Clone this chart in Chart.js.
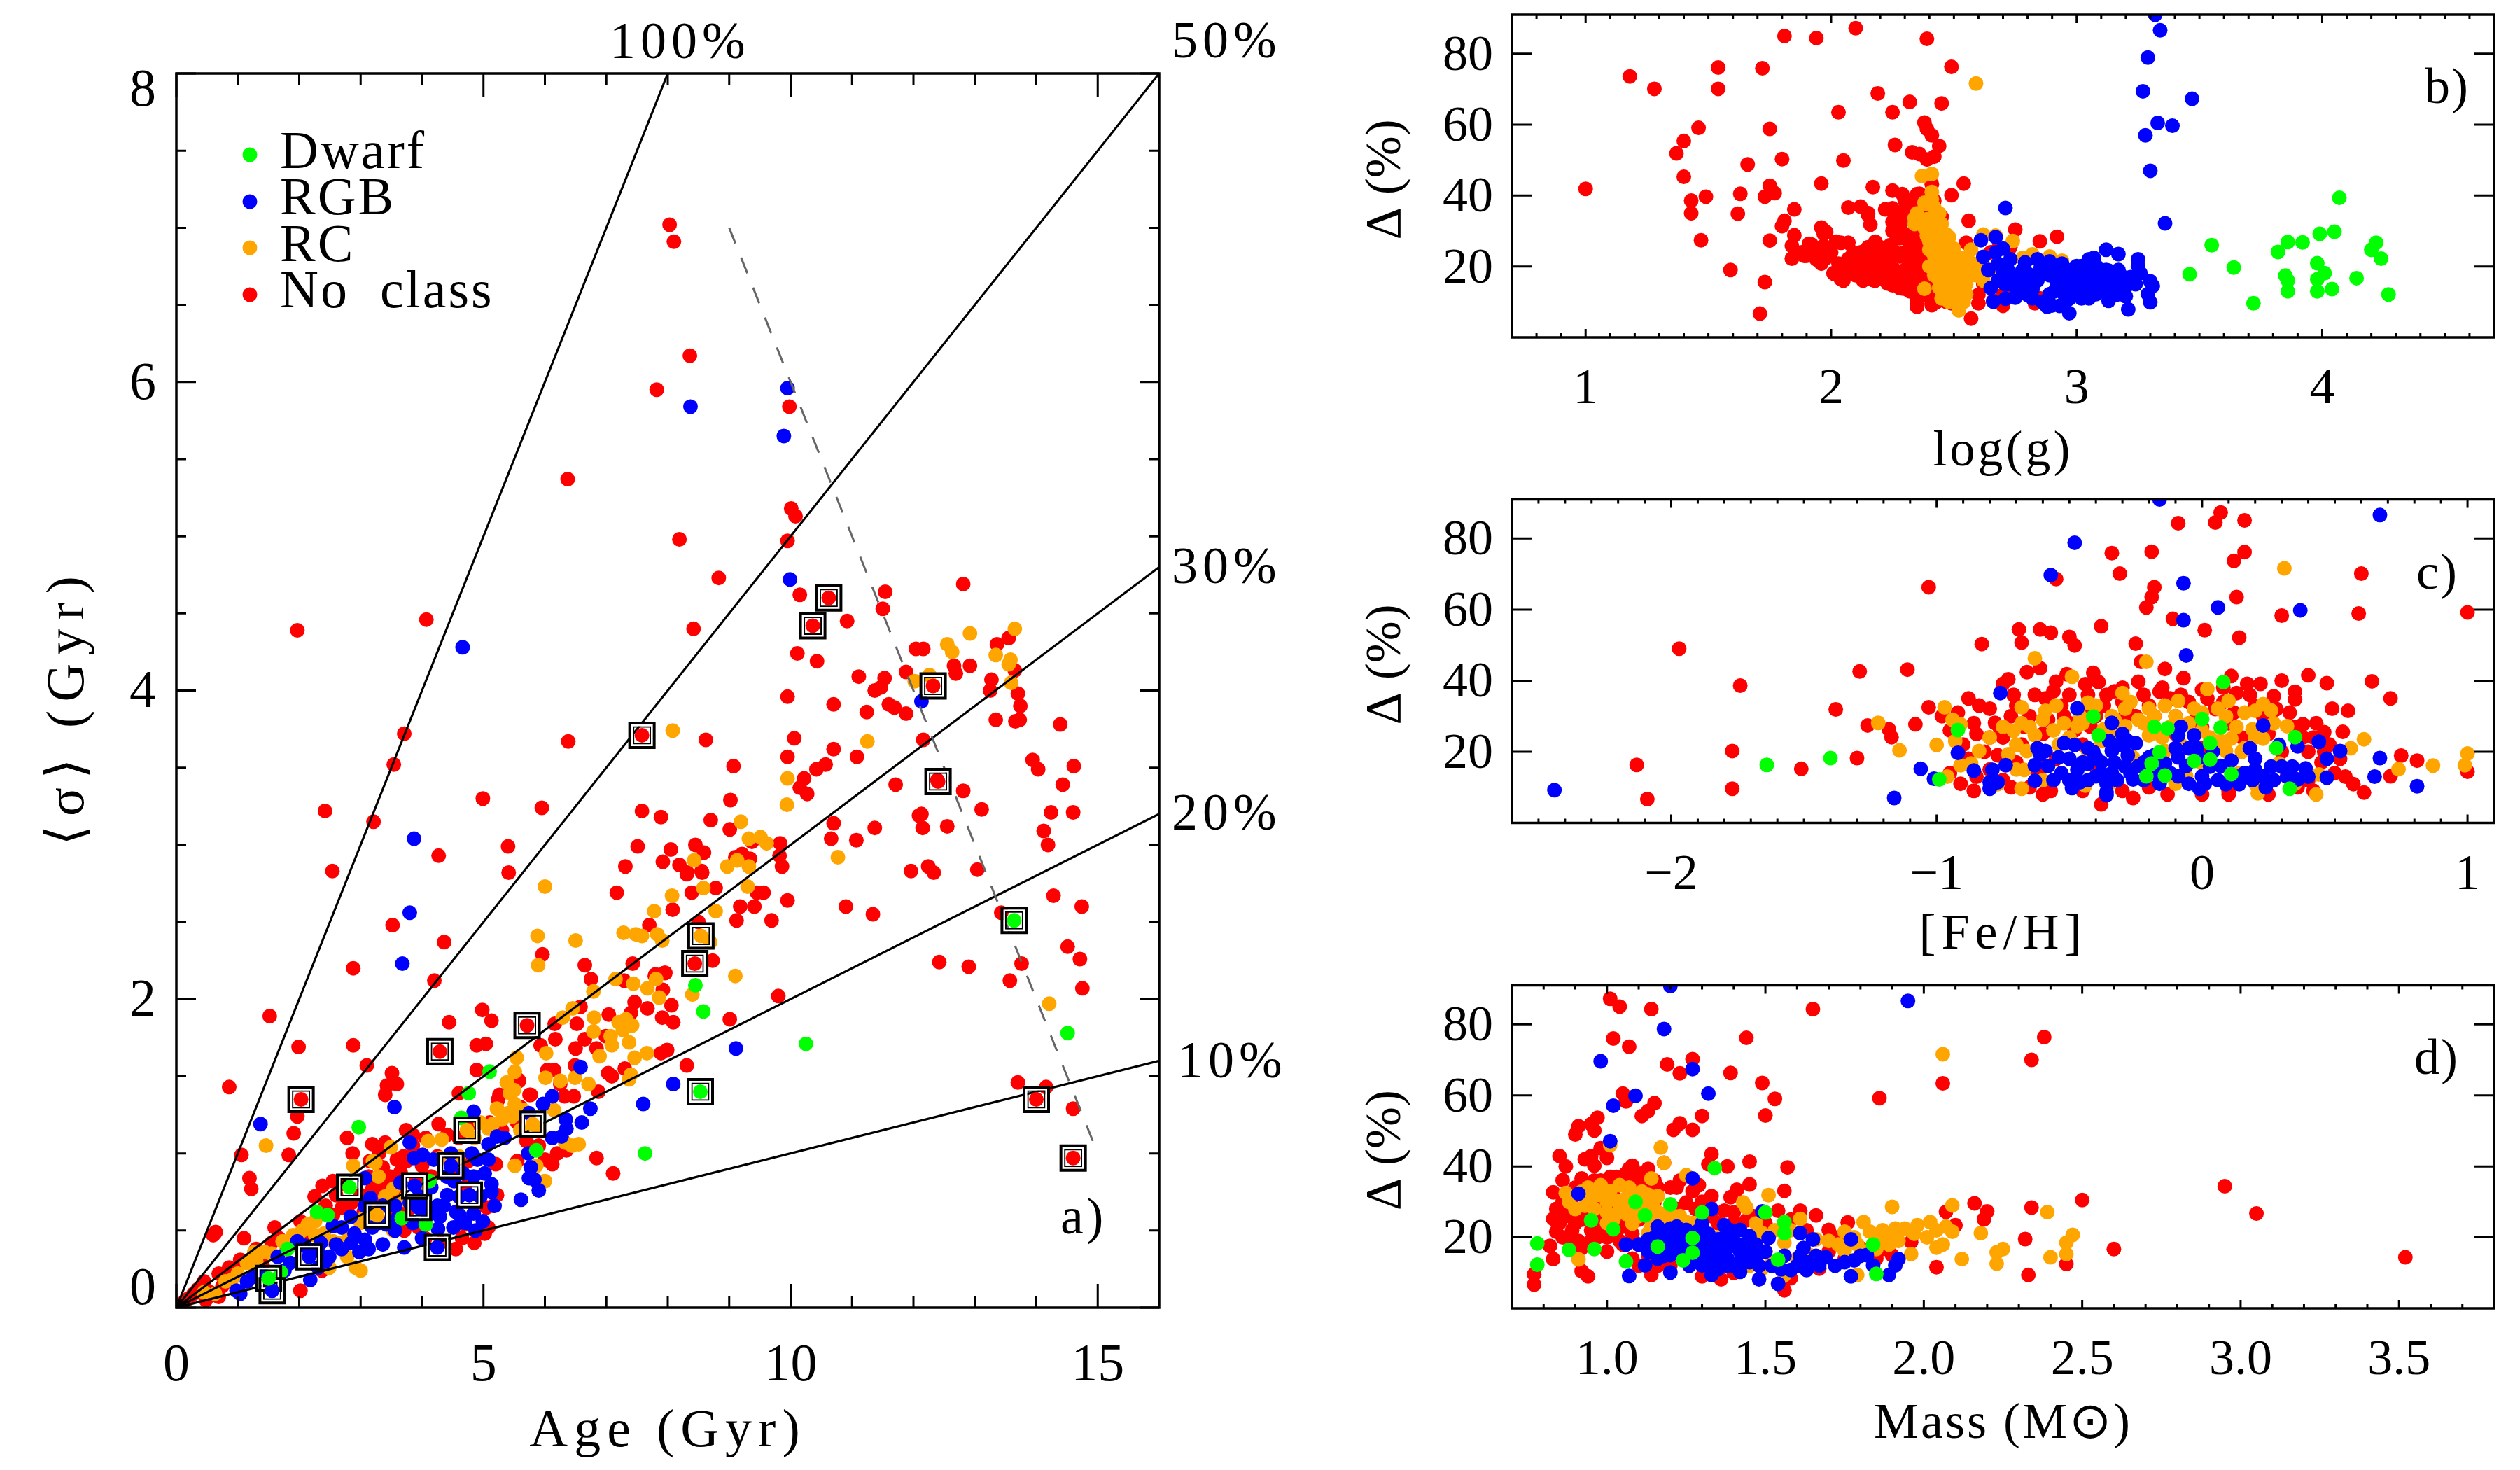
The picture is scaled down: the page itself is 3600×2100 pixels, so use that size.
<!DOCTYPE html>
<html>
<head>
<meta charset="utf-8">
<style>
html,body{margin:0;padding:0;background:#fff;width:3600px;height:2100px;overflow:hidden}
canvas{position:absolute;display:block}
</style>
<script src="https://cdn.jsdelivr.net/npm/chart.js@4/dist/chart.umd.min.js"></script>
</head>
<body>
<canvas id="pa" width="1900" height="2100" style="left:0;top:0"></canvas>
<canvas id="pb" width="1700" height="700" style="left:1900px;top:0"></canvas>
<canvas id="pc" width="1700" height="695" style="left:1900px;top:700px"></canvas>
<canvas id="pd" width="1700" height="705" style="left:1900px;top:1395px"></canvas>
<script>
// ---------- Panel a) Age vs <sigma> ----------
const aNoClass=[[8.03,7.02],[8.10,6.91],[8.36,6.17],[7.82,5.95],[9.98,5.84],[6.37,5.37],[10.01,5.18],[10.08,5.13],[9.95,4.97],[8.19,4.98],[8.83,4.73],[10.15,4.62],[4.07,4.46],[1.97,4.39],[8.42,4.40],[10.11,4.24],[10.43,4.19],[9.95,3.96],[10.70,3.91],[10.06,3.69],[3.71,3.72],[6.38,3.67],[8.62,3.68],[10.70,3.62],[9.95,3.57],[3.54,3.52],[9.07,3.51],[10.57,3.52],[10.42,3.49],[10.22,3.43],[10.15,3.37],[10.27,3.33],[4.99,3.30],[2.42,3.22],[5.95,3.24],[7.58,3.22],[7.89,3.18],[9.02,3.29],[8.70,3.16],[3.21,3.15],[9.01,3.10],[10.70,3.14],[10.66,3.04],[9.37,3.02],[5.40,2.99],[7.51,2.99],[4.27,2.93],[8.05,2.97],[8.45,3.0],[8.59,2.95],[9.83,3.01],[9.82,2.93],[7.92,2.89],[7.31,2.86],[8.19,2.87],[2.54,2.83],[5.41,2.82],[9.1,2.92],[9.21,2.94],[9.34,2.91],[9.86,2.86],[8.32,2.82],[8.55,2.83],
[10.92,4.45],[11.54,4.64],[11.50,4.53],[12.81,4.69],[12.04,4.27],[12.16,4.27],[13.36,4.30],[13.55,4.34],[12.66,4.16],[12.92,4.16],[12.69,4.11],[13.65,4.13],[11.88,4.12],[11.53,4.08],[11.11,4.09],[11.47,4.02],[11.37,4.0],[13.27,4.07],[13.25,4.0],[11.6,3.91],[11.69,3.89],[11.88,3.85],[11.24,3.86],[13.70,3.98],[13.74,3.90],[13.34,3.81],[13.66,3.80],[13.73,3.81],[14.39,3.78],[12.16,3.68],[11.08,3.57],[13.94,3.55],[14.03,3.49],[14.61,3.51],[11.71,3.39],[12.81,3.35],[14.43,3.39],[13.11,3.23],[14.24,3.21],[14.60,3.21],[12.09,3.19],[12.13,3.20],[12.15,3.11],[12.55,3.12],[11.37,3.11],[11.07,3.03],[14.12,3.09],[14.19,3.0],[11.96,2.83],[12.24,2.86],[12.33,2.82],[13.04,2.84],[9.95,2.64],[10.90,2.60],[11.34,2.55],[9.69,2.51],[9.45,2.69],[9.56,2.69],[9.18,2.6],[9.41,2.6],[9.12,2.51],[8.78,2.72],[8.39,2.69],[8.08,2.58],[7.70,2.48],[8.73,2.25],[7.95,2.17],[7.80,2.16],[8.06,1.96],[7.67,1.94],[7.91,1.88],[8.09,1.85],[9.01,1.87],[9.80,2.02],[13.43,2.56],[13.76,2.23],[12.42,2.24],[12.90,2.21],[13.57,2.12],[14.28,2.67],[14.74,2.60],[14.51,2.34],[14.71,2.26],[14.75,2.07],[8.31,2.81],[8.56,2.82],[8.5,2.5],[13.7,1.46],[14.16,1.43],[14.6,1.29],[12.39,3.42],
[5.96,2.29],[6.65,2.22],[7.43,2.23],[6.75,2.13],[7.29,2.12],[7.79,2.15],[7.96,2.17],[7.92,2.06],[7.46,1.98],[6.58,1.95],[7.4,1.91],[7.04,1.90],[4.98,1.93],[5.13,1.86],[6.16,1.84],[6.52,1.84],[6.17,1.74],[6.65,1.74],[6.99,1.76],[4.89,1.70],[5.04,1.71],[5.93,1.70],[6.5,1.68],[6.84,1.68],[7.89,1.65],[7.99,1.67],[4.89,1.54],[6.04,1.54],[6.15,1.54],[6.49,1.57],[7.3,1.55],[7.03,1.52],[7.09,1.50],[8.31,1.57],[5.56,1.48],[6.87,1.40],[4.6,1.39],[5.26,1.38],[5.75,1.38],[6.32,1.37],[6.47,1.37],[7.17,2.69],
[3.52,2.48],[4.36,2.37],[2.88,2.20],[4.2,2.12],[1.52,1.89],[1.99,1.69],[2.88,1.70],[3.10,1.57],[0.86,1.43],[3.51,1.52],[3.43,1.44],[3.59,1.45],[3.40,1.38],[4.44,1.85],[1.97,1.24],[1.91,1.13],[5.24,1.35],[5.58,1.47],[1.06,0.99],[1.83,0.99],[2.78,1.10],[3.74,1.15],[4.27,1.19],[3.19,1.06],[3.40,1.07],[2.87,1.0],[1.19,0.84],[1.22,0.77],[0.64,0.49],[2.38,0.79],[5.2,0.93],[6.84,0.97],[7.11,0.87],[6.12,0.93],[6.0,0.96],[5.77,1.38],
[3.59,0.96],[3.36,0.91],[3.7,0.98],[4.06,1.1],[4.41,1.12],[4.6,1.1],[3.42,0.82],[3.19,0.77],[2.6,0.73],[2.43,0.66],[2.14,0.54],[2.02,0.56],[1.67,0.45],[1.91,0.45],[0.86,0.26],[0.69,0.22],[0.45,0.17],[0.28,0.09],[1.04,0.31],[0.48,0.05],[0.69,0.07],[2.02,0.11],[2.37,0.24],[4.55,0.38],[5.02,0.48],[5.08,0.52],[5.22,0.73],[5.16,0.66],[4.7,0.54],[3.71,0.5],[3.94,0.52],[2.72,0.80],[2.55,0.82],[3.0,0.73],[3.13,0.85],[3.48,0.85],[3.75,0.95],[0.6,0.47],[1.3,0.38],[1.6,0.52],[2.25,0.72],[3.85,1.05],[4.15,0.85],[4.75,0.95],[1.1,0.45],[0.1,0.03]];
const aNoClassBand=[[0.2,0.06],[0.35,0.12],[0.55,0.1],[0.75,0.14],[0.9,0.2],[1.2,0.3],[1.4,0.28],[1.55,0.42],[1.8,0.38],[2.1,0.45],[2.3,0.6],[2.55,0.6],[2.7,0.65],[2.85,0.68],[3.05,0.62],[3.25,0.7],[3.35,0.78],[3.55,0.75],[3.65,0.88],[3.9,0.82],[4.0,0.92],[4.25,0.98],[4.5,0.88],[4.7,0.78],[4.95,0.72],[5.05,0.65],[3.5,0.58],[3.75,0.62],[4.05,0.45],[4.3,0.42],[4.65,0.45],[4.85,0.42],[5.3,1.15],[5.55,1.2],[5.7,1.08],[5.9,1.05],[6.2,1.0],[5.55,0.95],[6.35,1.02],[3.15,0.95],[3.3,1.0],[3.85,1.12],[4.85,1.2],[5.6,1.3],[6.25,1.45],[5.1,1.2]];
const aRC=[[8.08,3.74],[9.19,3.15],[9.32,3.04],[9.51,3.05],[9.61,3.01],[9.95,3.43],[9.94,3.26],[8.43,2.9],[9.13,2.9],[8.97,2.86],[9.32,2.86],[10.77,2.92],[11.25,3.67],[9.3,2.73],[8.58,2.72],[8.07,2.67],[8.78,2.57],[7.78,2.57],[7.48,2.42],[7.58,2.41],[7.83,2.42],[7.91,2.38],[8.69,2.37],[9.10,2.15],[7.81,2.13],[7.67,2.07],[7.44,2.10],[7.86,2.01],[8.40,2.03],[7.42,1.83],[12.55,4.30],[12.63,4.25],[12.92,4.37],[13.65,4.40],[13.34,4.23],[13.58,4.20],[13.55,4.17],[13.59,4.05],[12.26,4.10],[12.02,4.06],[14.21,1.97],
[6.0,2.73],[5.88,2.41],[6.5,2.38],[7.28,2.43],[5.89,2.22],[7.15,2.13],[6.79,2.05],[6.45,1.94],[6.29,1.88],[6.8,1.88],[7.2,1.85],[7.32,1.87],[7.4,1.83],[7.27,1.80],[6.79,1.79],[7.07,1.76],[7.09,1.70],[7.37,1.72],[6.02,1.65],[6.89,1.63],[7.66,1.65],[7.46,1.62],[5.54,1.62],[5.51,1.53],[6.01,1.49],[6.25,1.47],[6.49,1.49],[6.71,1.45],[7.4,1.51],[7.37,1.48],[5.38,1.46],[5.5,1.41],[5.43,1.39],[5.51,1.32],[5.22,1.29],[5.4,1.26],[5.47,1.24],[5.15,1.19],[5.08,1.16],[6.15,1.28],[6.33,1.07],[6.44,1.05],[6.55,1.06],[6.0,0.82],[5.51,0.92],[5.86,0.92],[1.46,1.05],[2.88,0.92],[3.24,0.94],[3.49,1.04],[4.1,1.08],[4.32,1.09],[3.29,0.85],[3.53,0.77],[2.14,0.54],[2.26,0.56],[2.26,0.47],[1.73,0.43],[1.44,0.36],[1.27,0.36],[1.15,0.29],[0.8,0.17],[0.63,0.09],[2.55,0.43],[2.78,0.33],[2.92,0.26],[3.0,0.24],[2.49,0.26],[3.07,0.59],[3.53,0.5],[4.6,0.98],[4.0,0.75]];
const aRCBand=[[1.9,0.47],[2.05,0.5],[2.4,0.48],[2.65,0.42],[2.8,0.45],[1.55,0.35],[1.3,0.3],[1.0,0.22],[0.45,0.1],[0.9,0.18],[3.0,0.55],[3.2,0.62],[3.4,0.72],[3.7,0.7],[4.85,1.1],[5.3,1.22],[5.6,1.15],[4.95,1.2],[5.65,1.28],[5.9,1.15],[4.3,0.97],[3.2,0.95]];
const aRGB=[[9.95,5.96],[8.37,5.84],[9.89,5.65],[9.99,4.72],[4.66,4.28],[3.87,3.04],[12.13,3.93],[9.11,1.68],[8.09,1.45],[6.58,1.56],[6.12,1.37],[7.6,1.32],[3.80,2.56],[3.68,2.23],[3.55,1.30],[1.37,1.19],[6.74,1.29],[5.97,1.32],[4.84,1.27],[5.74,1.26],[6.34,1.22],[6.35,1.16],[6.6,1.20],[6.27,1.11],[6.12,1.10],[5.34,1.1],[5.22,1.11],[5.08,1.06],[5.73,1.0],[5.77,0.91],[5.74,0.84],[5.83,0.83],[5.9,0.76],[5.61,0.70],[3.80,1.07],[3.87,0.97],[4.01,0.99],[4.47,1.0],[4.19,0.96],[4.81,1.0],[4.9,0.96],[5.08,0.96],[5.02,0.87],[5.13,0.80],[5.13,0.75],[5.18,0.66],[4.84,0.85],[4.67,0.87],[4.52,0.82],[4.41,0.73],[4.35,0.66],[4.29,0.59],[4.61,0.60],[4.84,0.61],[4.99,0.56],[4.87,0.50],[4.51,0.52],[4.26,0.51],[3.65,0.81],[4.05,0.66],[4.25,0.66],[3.07,0.84],[3.16,0.71],[3.07,0.66],[3.36,0.66],[3.56,0.66],[3.42,0.54],[3.56,0.50],[3.19,0.52],[2.84,0.59],[2.69,0.52],[2.55,0.53],[2.9,0.48],[3.07,0.44],[2.98,0.36],[3.13,0.38],[2.6,0.41],[2.69,0.38],[2.49,0.33],[3.36,0.41],[3.71,0.39],[1.97,0.43],[1.65,0.33],[1.85,0.29],[2.18,0.18],[1.15,0.17],[0.98,0.11],[1.04,0.09],[1.76,0.24],[2.31,0.26],[2.43,0.30]];
const aRGBBand=[[4.15,0.78],[3.95,0.72],[3.8,0.68],[4.6,0.72],[4.4,0.85],[4.7,0.55],[4.1,0.6],[3.6,0.58],[3.3,0.55],[2.85,0.42],[2.35,0.42],[2.3,0.37],[2.1,0.4],[1.4,0.22],[1.25,0.2],[4.55,0.62],[4.0,0.45],[4.95,0.72],[3.85,0.55]];
const aDwarf=[[8.45,2.09],[8.58,1.92],[10.25,1.71],[14.51,1.78],[5.10,1.53],[4.76,1.39],[4.64,1.23],[5.86,1.02],[7.63,1.0],[2.97,1.17],[4.12,0.82],[3.67,0.58],[4.06,0.54],[2.29,0.62],[2.46,0.60],[1.81,0.38],[1.70,0.23]];
// Stars framed by a double square, by class of the dot inside
const aMarkedNoClass=[[2.03,1.35],[4.29,1.66],[5.71,1.83],[8.44,2.23],[7.58,3.71],[10.36,4.42],[10.62,4.60],[12.32,4.03],[12.40,3.41],[14.0,1.35],[14.6,0.97]];
const aMarkedRC=[[4.73,1.15],[5.80,1.19],[3.27,0.60],[8.54,2.41]];
const aMarkedRGB=[[4.47,0.92],[3.88,0.79],[3.94,0.65],[4.77,0.73],[4.25,0.39],[2.16,0.33],[1.56,0.11]];
const aMarkedDwarf=[[2.82,0.78],[1.50,0.19],[8.53,1.40],[13.64,2.51]];
// Lines of constant relative uncertainty and the dashed 16 Gyr limit
const ray100=[[0,0],[8,8]];
const ray50=[[0,0],[16,8]];
const ray30=[[0,0],[16,4.8]];
const ray20=[[0,0],[16,3.2]];
const ray10=[[0,0],[16,1.6]];
const ageLimit=[[9,7],[15,1]];
const aXTicks=[0,5,10,15];
const aYTicks=[0,2,4,6,8];
const aXMinor=[1,2,3,4,6,7,8,9,11,12,13,14];
const aYMinor=[0.5,1,1.5,2.5,3,3.5,4.5,5,5.5,6.5,7,7.5];

// ---------- Panel b) log(g) vs Delta ----------
const bNoClass=[[1.0,41.9],[1.18,73.6],[1.28,70.1],[1.54,76.1],[1.54,70.1],[1.72,75.9],[1.81,85],[1.94,84.4],[2.10,87.2],[2.39,84.2],[2.49,76.3],[2.19,68.8],[2.32,66.4],[2.45,66],[2.03,63.5],[2.25,63.5],[1.46,59.1],[1.75,58.8],[1.40,55.4],[1.37,51.9],[2.38,60.6],[2.39,58.8],[2.41,57],[2.44,54],[2.26,54.3],[2.33,52.2],[2.42,51],[2.39,50.2],[1.8,50.3],[2.05,49.9],[1.66,48.8],[1.40,45.3],[1.75,42.8],[1.77,40.7],[1.73,39.7],[1.96,43.4],[2.17,42.4],[2.25,41.4],[2.29,40.4],[2.30,38.6],[2.35,40.4],[2.54,43.4],[2.49,40.1],[1.63,40.5],[1.49,39.7],[1.43,38.6],[1.43,35],[1.62,34.9],[1.85,36.1],[2.07,36.6],[2.12,36.9],[2.15,35.1],[2.16,31.8],[2.22,36.1],[2.26,35.2],[2.56,32.9],[1.81,32.9],[1.80,31.4],[2.75,30.4],[1.96,31],[1.97,29.2],[1.85,28.8],[1.84,25.8],[1.47,27.4],[1.75,27.3],[2.92,28.4],[2.85,27.1],[1.59,19],[1.73,15.6],[1.71,6.7],[2.57,5.3],[1.84,22.2],[1.90,23],[1.92,26.2],[1.97,25.8],[1.96,21],[2.07,26.7],[2.01,18],[2.05,16],[2.13,16],[2.18,16],[2.25,14.7],[2.29,13.8],[2.35,9.1],[2.41,9.1],[2.15,34.6],[2.25,36.4],[1.98,29.7],[1.91,26.4],[1.89,23],[1.96,20.8],[2.04,26.7],[2.01,18.1],[2.04,16.4],[2.1,17.5],[2.13,16.2],[2.17,16.2],[2.23,15.2],[2.28,13.9],[2.30,13.7],[2.15,25.4],[2.2,25.4],[2.24,26],[2.28,28],[2.28,22.8],[2.25,32.6],[2.28,31.3],[2.30,33.3],[2.32,35.3],[2.35,10.9],[2.35,8.6],[2.41,9.6],[2.45,12.2],[2.49,9.6],[2.6,9.6],[2.66,10.3],[2.7,8.9],[2.83,9.6],[2.55,26.7],[2.73,25.4],[1.98,22.4],[2.07,22.1],[2.15,21.4],[2.09,24],[2.19,20.1],[2.23,20.1],[2.32,20.1],[2.32,26.7],[2.34,30],[2.32,16.8],[2.35,14.9],[2.03,20.8],[2.11,20.1],[2.17,18.8],[2.22,17.5],[2.28,18.1],[2.25,22.8],[2.33,22.8],[1.93,24.7],[2.21,22.8],[2.36,51.7],[2.36,40.5],[2.41,43.2],[2.42,38.5],[2.38,25],[2.38,18],[2.38,30]];
const bNoClassBlob=[[1.88,24],[1.94,22],[2,24],[2.02,27],[2.06,19],[2.08,20],[2.1,22],[2.12,18],[2.12,24],[2.14,19],[2.16,23],[2.18,22],[2.18,27],[2.2,18],[2.22,20],[2.23,24],[2.24,17],[2.26,19],[2.26,24],[2.27,28],[2.28,16],[2.3,19],[2.3,24],[2.31,29],[2.32,13],[2.33,18],[2.34,24],[2.35,19],[2.35,27],[2.36,16],[2.37,22],[2.38,12],[2.4,15],[2.41,35],[2.42,12],[2.43,10],[2.45,34],[2.47,10],[2.38,34],[2.36,38],[2.33,37],[2.25,30],[2.3,36],[2.65,24],[2.68,25],[2.6,12],[2.62,15],[2.7,12],[2.78,13],[2.85,11],[2.9,18]];
const bRC=[[2.59,71.6],[2.37,45.5],[2.41,46.1],[2.41,41],[2.39,37.6],[2.42,36.6],[2.34,33.6],[2.34,32],[2.39,33.3],[2.45,32],[2.48,28.3],[2.39,28.7],[2.43,28],[2.40,24.7],[2.48,24.7],[2.42,20.8],[2.53,22.4],[2.42,17.5],[2.49,18.8],[2.59,17.5],[2.38,13.7],[2.45,13.5],[2.52,14.9],[2.49,10.9],[2.55,12.2],[2.52,8.3],[2.52,7.6],[2.57,24.7],[2.62,29],[2.67,28.7],[2.74,27.2],[2.78,22.4],[2.82,23.4],[2.89,22.8],[2.94,21.6],[2.62,20.1],[2.68,17.5],[2.47,20.8],[2.55,17.5],[2.48,15.5],[2.58,20.8],[2.44,22.8],[2.42,30],[2.47,12.2],[2.43,26],[2.5,22],[2.55,15],[2.44,16],[2.4,20]];
const bRCBlob=[[2.35,35],[2.38,31],[2.44,35],[2.4,27],[2.45,26],[2.47,23],[2.46,18],[2.5,20],[2.52,18],[2.5,16],[2.54,20],[2.56,19],[2.6,18],[2.62,16],[2.65,19],[2.45,11],[2.48,10],[2.5,12],[2.54,10],[2.42,23],[2.43,19],[2.44,14],[2.52,22],[2.47,29],[2.5,25],[2.41,33],[2.38,38],[2.41,39],[2.55,22]];
const bRGB=[[3.32,91],[3.34,86.6],[3.29,78.9],[3.27,69.4],[3.47,67.3],[3.33,60.5],[3.39,59.7],[3.28,57],[3.30,47],[3.36,32.2],[2.71,36.5],[2.61,27.4],[2.67,28.3],[2.70,25],[2.62,22.7],[2.73,22],[2.68,20.8],[2.79,21.1],[2.89,21.4],[2.94,20.8],[3.0,20.1],[3.07,22.4],[3.12,24.7],[3.17,23.5],[3.25,22],[3.25,20.1],[3.26,18.1],[3.30,15.8],[3.31,14.5],[3.29,12.2],[3.30,9.9],[3.21,7.9],[3.2,11.6],[3.2,14.2],[2.97,6.8],[2.88,8.6],[2.93,8.9],[3.13,10.3],[2.66,10.1],[2.71,10.9],[2.75,11.2],[2.65,13.9],[2.76,17.5],[2.82,16.8],[2.89,17.5],[2.71,14.9],[2.97,16.8],[3.04,17.5],[3.10,17.5],[3.15,15.5],[3.04,12.9],[2.97,10.9],[2.89,12.2],[2.82,13.5],[3.13,18.8],[3.18,17.5],[3.08,12.2],[3.02,20.1],[3.05,22],[2.78,19],[2.85,19],[2.92,15],[2.97,13.5],[2.78,15],[3.1,14],[3.0,19]];
const bRGBBlob=[[2.67,24],[2.72,19],[2.75,14],[2.8,18],[2.8,12],[2.84,16],[2.86,20],[2.86,10],[2.9,19],[2.91,13],[2.93,16],[2.95,18],[2.95,12],[2.98,15],[2.98,19],[3.0,14],[3.0,17],[3.02,11],[3.03,15],[3.05,19],[3.06,14],[3.07,17],[3.08,20],[3.09,15],[3.12,19],[3.12,13],[3.14,16],[3.16,12],[3.17,19],[3.19,16],[3.22,17],[3.24,15],[2.68,16],[2.64,19],[2.7,18],[2.74,16],[2.84,22],[2.82,11],[2.9,9],[2.95,9.5],[3.05,11]];
const bDwarf=[[4.07,39.4],[4.05,29.8],[3.99,29.2],[4.22,26.7],[4.2,24.7],[4.24,22.2],[3.86,26.9],[3.92,26.8],[3.82,24.1],[3.55,26],[3.64,19.7],[3.46,17.8],[3.98,20.9],[4.01,18.1],[3.98,16.4],[4.14,16.7],[3.85,17.4],[3.86,16],[3.86,13],[3.98,13],[4.04,13.6],[4.27,12.1],[3.72,9.6]];
const bXTicks=[1,2,3,4];
const bXMinor=[0.8,0.9,1.1,1.2,1.3,1.4,1.5,1.6,1.7,1.8,1.9,2.1,2.2,2.3,2.4,2.5,2.6,2.7,2.8,2.9,3.1,3.2,3.3,3.4,3.5,3.6,3.7,3.8,3.9,4.1,4.2,4.3,4.4,4.5,4.6];
const deltaTicks=[20,40,60,80];

// ---------- Panel c) [Fe/H] vs Delta ----------
const cNoClass=[[-2.13,16.3],[-2.09,6.7],[-1.97,49],[-1.77,20.2],[-1.77,9.6],[-1.74,38.6],[-1.51,15.2],[-1.3,18.2],[-1.29,42.6],[-1.11,43.1],[-1.38,31.9],[-1.26,27.4],[-1.18,26.3],[-1.17,24.1],[-1.08,27.7],[-1.03,66.3],[-1.03,32.5],[-0.83,50.3],[-0.69,54.4],[-0.68,50.7],[-0.61,54.4],[-0.57,53.5],[-0.5,52.3],[-0.48,49.9],[-0.38,55.3],[-0.25,50.4],[-0.23,45.3],[-0.14,43.3],[-0.07,40.7],[-0.24,39.7],[-0.55,68.6],[-0.34,75.9],[-0.19,76.3],[-0.31,70.1],[-0.18,66.3],[-0.19,63.5],[-0.21,60.6],[-0.09,84.3],[0.05,84.5],[0.07,87.3],[0.16,85.1],[0.16,76.2],[0.12,73.7],[0.13,63.5],[-0.11,57.4],[0.01,54.2],[0.14,52.1],[0.30,58.3],[0.59,58.9],[0.6,70.1],[1.0,59.2],[-0.66,42.4],[-0.61,43.5],[-0.75,39.1],[-0.73,40.4],[-0.55,39.7],[-0.51,41.8],[-0.41,42.2],[-0.39,39.6],[0.11,41.3],[0.17,39.1],[0.22,39.1],[0.3,40],[0.4,41.5],[0.47,39.3],[0.64,39.8],[0.71,35],[0.35,36.9],[0.35,34.7],[0.27,35.6],[0.49,32.1],[0.55,31.5],[0.53,25.6],[0.46,25.5],[0.38,27.7],[0.75,18.9],[0.81,17.5],[0.71,13.1],[0.57,10.9],[0.61,8.5],[1.0,14.4],[-0.38,5.2],[-0.88,35],[-0.8,32.1],[-0.78,28.1],[-0.71,36],[-0.59,35],[-0.53,33],[-0.43,36],[-0.16,36.9],[0,37.4],[0.13,36.5],[-0.95,26],[-0.9,22],[-0.85,25],[-0.82,20],[-0.88,18],[-0.8,15],[-0.75,12],[-0.65,10],[-0.6,8],[-0.55,18],[-0.6,25],[-0.65,30],[-0.5,28],[-0.45,22],[-0.45,32],[-0.4,30],[-0.35,26],[-0.3,34],[-0.25,30],[-0.2,33],[-0.1,30],[-0.05,34],[0.05,32],[0.1,28],[0.2,33],[0.25,25],[0.3,20],[0.35,27],[0.4,20],[0.45,17],[0.5,14],[0.4,12],[0.25,8],[0,8],[0.1,9],[-0.2,10],[-0.3,9],[-0.5,12],[-0.7,17],[-0.75,24],[-0.72,30],[-0.95,14],[-0.85,13],[-0.1,25],[0.15,24],[0,27],[-0.3,22],[-0.4,16],[-0.15,20],[-0.52,30],[-0.48,26],[-0.36,36],[-0.3,38],[-0.12,35],[0.08,34],[0.26,29],[0.42,24],[0.48,22],[-0.68,22],[-0.62,14]];
const cNoClassBlob=[[-0.98,30],[-0.92,31],[-0.86,28],[-0.84,33],[-0.76,26],[-0.7,33],[-0.67,27],[-0.63,36],[-0.58,29],[-0.56,37],[-0.5,36],[-0.44,39],[-0.42,27],[-0.37,33],[-0.33,37],[-0.28,31],[-0.22,36],[-0.18,30],[-0.15,38],[-0.08,36],[-0.02,31],[0.02,35],[0.08,38],[0.12,31],[0.18,36],[0.23,30],[0.28,32],[0.33,31],[0.38,24],[0.43,28],[0.46,20],[0.52,18],[0.54,13],[0.42,9],[0.36,10],[0.1,8],[-0.13,8],[-0.26,7],[-0.45,9],[-0.57,9],[-0.72,10],[-0.86,9],[-0.91,11],[-0.8,24],[-0.77,19],[-0.6,16],[-0.3,29],[0,21],[0.32,13]];
const cRC=[[0.31,71.6],[-0.21,45.3],[-0.63,46.3],[-0.49,41.1],[0.02,37.6],[-0.3,36.5],[-1.22,28.1],[-1.14,20.4],[-1.0,21.9],[-0.97,32.5],[-0.94,29],[-0.91,27.7],[-0.84,20.2],[-0.87,16.7],[-0.91,16.2],[-0.96,13],[-0.68,32.5],[-0.71,25.9],[-0.63,24.6],[-0.66,20.2],[-0.67,14.9],[-0.68,9.6],[-0.59,31.5],[-0.47,27.2],[-0.43,33.8],[-0.29,32.1],[-0.2,32.1],[-0.09,34.3],[-0.14,33],[-0.03,32.1],[0.06,32.1],[0.1,34.3],[0.09,29.9],[0.23,33.4],[0.2,31.5],[0.26,31.6],[0.32,27.2],[0.19,26.3],[0.23,23.7],[0.11,23.7],[0.09,20.2],[-0.29,27.2],[-0.2,24.6],[-0.37,26.3],[0.61,23.5],[0.56,21],[0.44,13.6],[0.43,8],[0.21,8.3],[0.74,15.1],[0.87,16.1],[0.99,16.2],[1,19.5],[-0.77,10.9],[-0.44,10.5],[-0.54,22],[-0.14,20.2],[0,16.7],[0.14,14],[-0.43,20.2],[-0.26,18.4],[-0.73,19.3],[-0.06,13.1],[0.29,16.7],[-0.46,30],[-0.33,29],[-0.24,29],[-0.12,27],[0.0,26],[0.16,21],[-0.56,26],[-0.68,28]];
const cRCBlob=[[-0.93,23],[-0.8,24],[-0.75,27],[-0.7,22],[-0.65,27],[-0.6,29],[-0.55,33],[-0.52,28],[-0.5,24],[-0.45,28],[-0.4,33],[-0.38,23],[-0.34,30],[-0.3,24],[-0.27,34],[-0.22,28],[-0.18,30],[-0.1,30],[-0.05,28],[0.0,31],[0.03,24],[0.07,23],[0.13,27],[0.16,31],[0.2,24],[0.27,28],[0.15,20],[0.2,18],[-0.08,22],[-0.15,24],[-0.33,25],[-0.7,15],[-0.6,12],[-0.35,11],[-0.1,11],[0.2,11],[0.35,11]];
const cRGB=[[-2.44,9.2],[-1.16,7],[-0.48,78.8],[-0.57,69.7],[-0.16,91],[0.67,86.6],[-0.07,67.4],[0.06,60.6],[0.37,59.8],[-0.07,57],[-0.06,47.1],[-0.76,36.5],[-0.47,32.2],[-0.34,28.1],[0.23,27.4],[-0.92,19.7],[-1.06,15.2],[-1.01,12.4],[-0.86,14.7],[-0.74,16.2],[-0.79,14.9],[-0.8,11.4],[-0.8,9.6],[-0.77,11.4],[0.44,22.8],[0.52,20.2],[0.47,18],[0.47,12.7],[0.65,13],[0.67,18.2],[0.81,10.3],[0.29,21.9],[0.36,21.5],[0.18,21],[-0.52,22.4],[-0.48,21.9],[-0.3,25],[-0.09,24.6],[-0.03,24.6],[-0.49,9.8],[-0.36,8.7],[-0.36,7.8],[-0.01,9.6],[-0.43,21],[-0.31,21.9],[-0.25,22.4],[-0.61,19.3],[-0.59,20.2],[-0.63,16.2],[-0.63,11.8],[-0.54,18.4],[-0.53,14],[-0.47,14.9],[-0.43,16.7],[-0.4,18.4],[-0.34,20.2],[-0.46,11.4],[-0.4,13.1],[-0.34,14],[-0.29,15.8],[-0.26,12.2],[-0.2,18.4],[-0.14,16.7],[-0.09,18.4],[-0.09,13.1],[0,13.1],[0.03,15.8],[-0.01,18.4],[0.11,17.5],[0.16,14],[0.14,10.9],[0.23,13.1],[0.26,15.8],[0.3,15.8],[0.34,15.8],[0.39,15.3],[0.36,12.2],[0.24,10],[0.09,10.9],[-0.24,16],[-0.18,14],[-0.05,21],[-0.38,17]];
const cRGBBlob=[[-0.62,21],[-0.58,16],[-0.56,12],[-0.5,18],[-0.5,12],[-0.45,17],[-0.43,12],[-0.41,20],[-0.38,14],[-0.36,11],[-0.33,17],[-0.32,12],[-0.28,19],[-0.27,14],[-0.22,17],[-0.22,12],[-0.18,19],[-0.16,11],[-0.12,14],[-0.1,21],[-0.06,16],[-0.05,11],[-0.02,21],[0.01,11],[0.04,20],[0.06,12],[0.07,16],[0.13,13],[0.19,12],[0.2,15],[0.2,18],[0.27,12],[0.32,13],[0.4,13],[-0.35,23],[-0.28,23],[-0.08,27]];
const cDwarf=[[-1.64,16.3],[-1.4,18.2],[-0.99,12.2],[-0.92,26.1],[-0.41,29.9],[-0.39,24.6],[-0.18,27],[-0.13,26.6],[0,29.2],[0.07,26.8],[0.08,39.6],[0.03,22.4],[-0.16,19.9],[-0.03,17.4],[0.03,17.8],[-0.19,16.7],[-0.21,13.1],[-0.14,13.3],[0.11,13.7],[0.28,21],[0.35,24.1],[0.33,9.6]];
const cXTicks=[-2,-1,0,1];
const cXMinor=[-2.5,-2.4,-2.3,-2.2,-2.1,-1.9,-1.8,-1.7,-1.6,-1.5,-1.4,-1.3,-1.2,-1.1,-0.9,-0.8,-0.7,-0.6,-0.5,-0.4,-0.3,-0.2,-0.1,0.1,0.2,0.3,0.4,0.5,0.6,0.7,0.8,0.9];

// ---------- Panel d) Mass vs Delta ----------
const dNoClass=[[1.01,87.2],[1.04,85],[1.14,84.3],[1.65,84.3],[1.02,76],[1.07,73.7],[1.44,76.2],[2.38,76.4],[2.34,70],[1.27,70.2],[1.19,68.7],[1.23,66.2],[1.39,66.3],[2.06,63.4],[1.49,63.5],[1.53,59],[1.86,59.2],[1.05,60.5],[1.06,58.3],[1.15,57.8],[1.13,55.6],[1.11,54.2],[1.3,54.2],[1.5,54.3],[1.23,52.1],[1.21,50.3],[1.27,50.3],[0.97,53.7],[0.95,51.9],[0.96,50.1],[0.91,51.3],[0.9,49],[0.98,45.1],[0.95,42.9],[0.93,42],[1,42.4],[0.96,40.2],[0.85,42.9],[0.87,40],[1.33,43.5],[1.45,41.3],[1.57,39.7],[1.38,40],[1.32,40.6],[1.07,39.3],[1.08,40.2],[1.13,39.3],[1.18,41],[1.45,34.9],[1.56,33.1],[1.41,33.4],[1.39,31.3],[1.22,34],[1.29,34.7],[1.33,31.6],[1.25,29.8],[0.92,36.6],[0.86,36.1],[1.01,37],[0.83,32.7],[0.86,30.2],[0.83,25.2],[0.84,21.6],[0.82,17.6],[0.83,13.9],[0.77,9.6],[0.77,6.7],[0.92,10.5],[0.94,9],[1.14,9.4],[1.36,8.2],[1.56,5.1],[2.16,29.6],[2.2,27.3],[2.19,25.1],[2.34,28.4],[2.5,30.5],[2.07,27.2],[2.1,23.4],[1.96,18.7],[2.04,11.6],[2.32,19.5],[2.33,9.4],[2.45,12.5],[2.6,16.7],[2.95,34.4],[3.05,26.7],[3.52,14.4],[1.61,27.5],[1.66,26.2],[1.76,24.2],[1.7,22.1],[1.71,18.5],[1.67,11.2],[1.87,16.7],[1.75,13.9],[1.58,8.5],[1.44,24.8],[1.54,27.5],[1.37,27.5],[0.9,28],[0.95,32],[0.9,24],[0.95,22],[1,26],[1.02,32],[1,20],[1.05,18],[1.08,14],[1.1,12],[1.12,35],[1.15,30],[1.2,22],[1.25,15],[1.3,9],[1.4,10],[0.98,36],[1.03,37],[0.88,20],[0.92,17],[1.1,25],[1.07,28],[0.88,26],[0.93,26],[0.98,23],[1.03,22],[0.98,30],[1.08,32],[1.15,36],[1.22,28]];
const dNoClassBlob=[[0.84,28],[0.85,24],[0.86,20],[0.87,27],[0.89,31],[0.89,22],[0.9,34],[0.91,19],[0.92,25],[0.93,34],[0.94,29],[0.95,19],[0.96,36],[0.96,27],[0.97,31],[0.97,20],[0.99,25],[1,34],[1,16],[1.01,29],[1.03,26],[1.04,19],[1.05,35],[1.05,23],[1.06,38],[1.08,21],[1.09,36],[1.1,18],[1.11,38],[1.13,15],[1.14,28],[1.16,12],[1.16,34],[1.18,20],[1.2,34],[1.2,12],[1.23,36],[1.27,33],[1.28,28],[1.3,30],[1.33,26],[1.35,24],[1.4,27],[1.4,24],[1.46,26],[1.5,24],[1.58,25],[1.63,22],[1.7,16],[1.73,20],[1.8,17],[1.85,14],[1.9,15]];
const dRC=[[2.06,71.6],[1.17,45.3],[1.18,41],[1.01,46],[1.25,37.5],[1.14,36.6],[1.51,31.9],[1.9,28.6],[2.09,29],[2.39,27.1],[2.47,20.7],[2.45,18.5],[2.45,15.3],[2.4,14.4],[2.25,16.7],[2.23,15.8],[2.23,12.6],[2.18,21.2],[2.12,13.9],[1.96,15.3],[2.04,17.1],[2.09,21.6],[2.07,23],[2.02,24.3],[1.98,23.4],[1.94,22.5],[1.91,22.5],[1.87,22],[1.81,24.3],[1.83,21.6],[1.75,21.6],[1.75,16.2],[1.89,18],[0.91,13.8],[0.87,32.5],[0.92,32.9],[0.98,34.7],[1.04,34.7],[1.08,32.5],[1.11,32.9],[1.16,31.6],[0.95,31.1],[1,27],[1.06,26.6],[1.08,23.9],[1.14,25.7],[1.18,26.6],[1.25,24.3],[1.43,29.8],[1.44,28.4],[1.47,23.9],[1.61,25.2],[1.49,21.2],[1.56,18.5],[1.49,11.2],[1.56,9.4],[0.93,28.9],[1.13,32],[1.04,30.2],[1.13,21.2],[1.2,23.9],[1.79,9.4],[1.85,16.7],[1.66,19.4],[1.0,30],[1.1,29],[1.15,28]];
const dRCBlob=[[0.88,30],[0.9,28],[0.94,34],[0.96,28],[0.97,32],[0.99,33],[1.0,24],[1.01,33],[1.02,25],[1.04,28],[1.06,31],[1.07,34],[1.08,28],[1.1,26],[1.11,30],[1.13,28],[1.14,23],[1.15,31],[1.16,27],[1.17,23],[1.2,27],[1.22,24],[1.23,26],[1.27,24],[1.3,22],[1.35,20],[1.45,17],[1.5,16],[1.53,22],[1.58,22],[1.45,12],[1.52,13],[1.6,14],[1.64,15],[1.7,19],[1.73,18],[1.78,20],[1.79,18],[1.82,16],[1.92,19],[1.97,21],[2.01,20],[2.04,22],[2.06,18],[1.86,20],[1.9,21]];
const dRGB=[[1.2,90.8],[1.95,86.6],[1.18,78.7],[0.98,69.6],[1.27,67.4],[1.32,60.5],[1.09,59.9],[1.02,57.1],[1.01,47.1],[1.27,36.6],[0.91,32.3],[1.33,28],[1.49,27.3],[1.06,18],[1.12,12.1],[1.07,9.1],[1.2,10.1],[1.16,23],[1.2,22.5],[1.13,19.4],[1.2,18.5],[1.25,14.8],[1.18,14.8],[1.23,21.2],[1.3,23.9],[1.37,23.4],[1.42,22.1],[1.45,20.3],[1.51,19.8],[1.3,18.5],[1.35,19.4],[1.39,17.6],[1.44,15.7],[1.3,12.1],[1.35,13],[1.33,9.4],[1.42,10.3],[1.48,8.2],[1.54,6.9],[1.61,21.2],[1.65,19.4],[1.56,14.8],[1.61,14.8],[1.66,14.8],[1.69,14.4],[1.58,10.8],[1.63,10.8],[1.77,19.4],[1.75,13],[1.8,14.8],[1.78,13.5],[1.77,9],[1.84,12.1],[1.92,13.9],[1.91,12.1],[1.89,9.4],[1.25,22.1],[1.37,17.6],[1.28,14.8],[1.47,14.8],[1.34,15],[1.38,12],[1.32,16],[1.42,13],[1.22,17]];
const dRGBBlob=[[1.1,18],[1.13,16],[1.15,20],[1.16,14],[1.18,17],[1.18,21],[1.2,15],[1.22,23],[1.22,19],[1.24,20],[1.26,17],[1.26,12],[1.28,19],[1.29,22],[1.3,15],[1.32,21],[1.32,12],[1.33,18],[1.35,16],[1.35,11],[1.37,20],[1.38,14],[1.39,22],[1.4,19],[1.4,12],[1.42,16],[1.43,18],[1.45,13],[1.47,18],[1.48,12],[1.5,16],[1.52,12],[1.55,11],[1.6,12],[1.62,17],[1.64,13],[1.67,12],[1.72,12],[1.82,15]];
const dDwarf=[[1.34,39.5],[1.2,29.3],[1.09,30],[1.3,27],[1.5,27],[1.12,26.2],[0.95,24.8],[1.02,22.3],[1.56,24.3],[1.56,21.2],[1.27,19.8],[0.78,18.3],[0.88,16.5],[0.96,16.7],[1.16,17.4],[1.27,15.7],[1.24,13.5],[1.06,13.2],[0.78,12.3],[1.54,13.7],[1.84,18],[1.85,9.7]];
const dXTicks=[1,1.5,2,2.5,3,3.5];
const dXMinor=[0.8,0.9,1.1,1.2,1.3,1.4,1.6,1.7,1.8,1.9,2.1,2.2,2.3,2.4,2.6,2.7,2.8,2.9,3.1,3.2,3.3,3.4,3.6,3.7];

const legendLabels=['Dwarf','RGB','RC','No class'];
const classColors=['#00ff00','#0000ff','#ffa500','#ff0000'];

const SERIF='"Liberation Serif", serif';
const DOT=10.5;
const pts=a=>a.map(p=>({x:p[0],y:p[1]}));
const scatter=(a,color,label)=>({label,data:pts(a),pointRadius:DOT,pointBackgroundColor:color,pointBorderWidth:0,pointHoverRadius:DOT,showLine:false});
const line=(a,color,w,dash)=>({data:pts(a),showLine:true,borderColor:color,borderWidth:w,borderDash:dash||[],pointRadius:0,fill:false,tension:0});
const ring=(a,r,color,w)=>({data:pts(a),pointStyle:'rect',pointRadius:r,pointBackgroundColor:'rgba(0,0,0,0)',pointBorderColor:color,pointBorderWidth:w,showLine:false});

function txt(ctx,s,x,y,size,spacing,words){
  ctx.save();
  ctx.font=size+'px '+SERIF;
  ctx.letterSpacing=(spacing||0)+'px';
  ctx.wordSpacing=(words||0)+'px';
  ctx.fillStyle='#000';ctx.textAlign='left';ctx.textBaseline='alphabetic';
  ctx.fillText(s,x,y);
  ctx.restore();
}

function frame(cfg){
  return {
    id:'frame',
    afterUpdate(chart){
      const wrap=(s,sp,dy)=>{ if(s._wrapped) return; s._wrapped=true; const o=s.drawTitle; s.drawTitle=function(){const c=this.ctx;c.save();c.letterSpacing=sp+'px';c.translate(0,dy||0);o.apply(this,arguments);c.restore();}; };
      wrap(chart.scales.x,cfg.xSpacing,0); wrap(chart.scales.y,cfg.ySpacing,cfg.yTitleDy);
    },
    beforeDraw(chart){
      // the outermost y labels sit inside the frame, the others just below their tick
      const y=chart.scales.y, items=y.getLabelItems(chart.chartArea);
      if(items.length&&!items[0]._moved){
        items.forEach((it,i)=>{
          it._moved=true;
          let dy=4;
          if(cfg.clampY&&i===0) dy=-25;
          if(cfg.clampY&&i===items.length-1) dy=26;
          it.options.translation[1]+=dy;
        });
      }
    },
    afterDatasetsDraw(chart){
      const {ctx,chartArea:a,scales:{x,y}}=chart;
      ctx.save();
      ctx.strokeStyle='#000';ctx.lineWidth=cfg.border;ctx.lineCap='butt';
      ctx.strokeRect(a.left,a.top,a.right-a.left,a.bottom-a.top);
      ctx.lineWidth=3;
      const vt=(v,len)=>{const p=x.getPixelForValue(v);ctx.beginPath();ctx.moveTo(p,a.bottom);ctx.lineTo(p,a.bottom-len);ctx.moveTo(p,a.top);ctx.lineTo(p,a.top+len);ctx.stroke();};
      const ht=(v,len)=>{const p=y.getPixelForValue(v);ctx.beginPath();ctx.moveTo(a.left,p);ctx.lineTo(a.left+len,p);ctx.moveTo(a.right,p);ctx.lineTo(a.right-len,p);ctx.stroke();};
      cfg.xTicks.forEach(v=>vt(v,cfg.xMajorLen));
      cfg.xMinor.forEach(v=>vt(v,cfg.xMajorLen/2));
      cfg.yTicks.forEach(v=>ht(v,cfg.yMajorLen));
      (cfg.yMinor||[]).forEach(v=>ht(v,cfg.yMajorLen/2));
      ctx.restore();
      (cfg.labels||[]).forEach(l=>txt(ctx,l[0],l[1],l[2],l[3],l[4]));
      if(cfg.legend){
        legendLabels.forEach((s,i)=>{
          const yy=[221,288,354,421][i];
          ctx.fillStyle=classColors[i];ctx.beginPath();ctx.arc(357,yy,10.5,0,Math.PI*2);ctx.fill();
          txt(ctx,s,400,[240,306,373,439][i],76,3,22);
        });
      }
    }
  };
}

function panel(id,cfg){
  const cv=document.getElementById(id);
  const tickFmt=(v)=>cfg.fmt?cfg.fmt(v):String(v).replace('-','\u2212');
  const noPad=s=>{s.paddingTop=0;s.paddingBottom=0;s.paddingLeft=0;s.paddingRight=0;};
  return new Chart(cv,{
    type:'scatter',
    data:{datasets:cfg.datasets},
    plugins:[frame(cfg)],
    options:{
      responsive:false,animation:false,devicePixelRatio:1,
      layout:{autoPadding:false,padding:{left:0,top:cfg.top,right:cfg.right,bottom:0}},
      plugins:{legend:{display:false},tooltip:{enabled:false}},
      events:[],
      scales:{
        x:{type:'linear',min:cfg.xMin,max:cfg.xMax,
          grid:{display:false,drawTicks:false},border:{display:false},
          afterBuildTicks:s=>{s.ticks=cfg.xTicks.map(v=>({value:v}));},
          afterFit:s=>{s.height=cfg.xHeight;noPad(s);},
          ticks:{autoSkip:false,maxRotation:0,minRotation:0,padding:cfg.xTickPad,color:'#000',font:{family:SERIF,size:cfg.tickSize},callback:tickFmt},
          title:{display:true,text:cfg.xTitle,color:'#000',font:{family:SERIF,size:cfg.titleSize},padding:{top:0,bottom:cfg.xTitlePad}}
        },
        y:{type:'linear',min:cfg.yMin,max:cfg.yMax,
          grid:{display:false,drawTicks:false},border:{display:false},
          afterBuildTicks:s=>{s.ticks=cfg.yTicks.map(v=>({value:v}));},
          afterFit:s=>{s.width=cfg.left;noPad(s);},
          ticks:{autoSkip:false,padding:cfg.yTickPad,color:'#000',font:{family:SERIF,size:cfg.tickSize},callback:v=>String(v)},
          title:{display:true,text:cfg.yTitle,color:'#000',font:{family:SERIF,size:cfg.titleSize},padding:{top:cfg.yTitlePad,bottom:0}}
        }
      }
    }
  });
}

const marked=[...aMarkedNoClass,...aMarkedRC,...aMarkedRGB,...aMarkedDwarf];
panel('pa',{
  left:252,top:105,right:244,xHeight:232,
  xMin:0,xMax:16,yMin:0,yMax:8,
  xTicks:aXTicks,yTicks:aYTicks,xMinor:aXMinor,yMinor:aYMinor,
  xMajorLen:34,yMajorLen:28,border:3.5,clampY:true,
  tickSize:76,titleSize:76,xTickPad:38,yTickPad:29,
  xTitle:'Age (Gyr)',yTitle:'\u27E8\u03C3\u27E9 (Gyr)',
  xTitlePad:8,yTitlePad:53,xSpacing:9,ySpacing:12,yTitleDy:23,
  legend:true,
  labels:[['100%',871,83,74,7],['50%',1674,82,74,7],['30%',1674,833,74,7],['20%',1674,1185,74,7],['10%',1682,1539,74,7],['a)',1515,1762,74,4]],
  datasets:[
    scatter(aMarkedDwarf,classColors[0],'Dwarf framed'),
    scatter(aMarkedRGB,classColors[1],'RGB framed'),
    scatter(aMarkedRC,classColors[2],'RC framed'),
    scatter(aMarkedNoClass,classColors[3],'No class framed'),
    ring(marked,24.75,'#000',4),
    ring(marked,20.15,'#fff',2.5),
    ring(marked,16.97,'#000',2),
    line(ageLimit,'#666666',3,[24,22]),
    line(ray100,'#000',3.2),line(ray50,'#000',3.2),line(ray30,'#000',3.2),line(ray20,'#000',3.2),line(ray10,'#000',3.2),
    scatter(aDwarf,classColors[0],legendLabels[0]),
    scatter([...aRGB,...aRGBBand],classColors[1],legendLabels[1]),
    scatter([...aRC,...aRCBand],classColors[2],legendLabels[2]),
    scatter([...aNoClass,...aNoClassBand],classColors[3],legendLabels[3])
  ]
});
panel('pb',{
  left:260,top:21,right:37,xHeight:218,
  xMin:0.7,xMax:4.7,yMin:0,yMax:91,
  xTicks:bXTicks,yTicks:deltaTicks,xMinor:bXMinor,
  xMajorLen:12,yMajorLen:28,border:3.5,
  tickSize:72,titleSize:72,xTickPad:32,yTickPad:27,
  xTitle:'log(g)',yTitle:'\u0394 (%)',
  xTitlePad:11,yTitlePad:38,xSpacing:4,ySpacing:0,yTitleDy:5,
  labels:[['b)',1564,147,72,2]],
  datasets:[scatter(bDwarf,classColors[0],legendLabels[0]),scatter([...bRGB,...bRGBBlob],classColors[1],legendLabels[1]),scatter([...bRC,...bRCBlob],classColors[2],legendLabels[2]),scatter([...bNoClass,...bNoClassBlob],classColors[3],legendLabels[3])]
});
panel('pc',{
  left:260,top:13.5,right:37,xHeight:219.5,
  xMin:-2.6,xMax:1.1,yMin:0,yMax:91,
  xTicks:cXTicks,yTicks:deltaTicks,xMinor:cXMinor,
  xMajorLen:12,yMajorLen:28,border:3.5,
  tickSize:72,titleSize:72,xTickPad:32,yTickPad:27,
  xTitle:'[Fe/H]',yTitle:'\u0394 (%)',
  xTitlePad:16,yTitlePad:38,xSpacing:8,ySpacing:0,yTitleDy:5,
  labels:[['c)',1552,141,72,2]],
  datasets:[scatter(cDwarf,classColors[0],legendLabels[0]),scatter([...cRGB,...cRGBBlob],classColors[1],legendLabels[1]),scatter([...cRC,...cRCBlob],classColors[2],legendLabels[2]),scatter([...cNoClass,...cNoClassBlob],classColors[3],legendLabels[3])]
});
panel('pd',{
  left:260,top:12.5,right:37,xHeight:231,
  xMin:0.7,xMax:3.8,yMin:0,yMax:91,
  xTicks:dXTicks,yTicks:deltaTicks,xMinor:dXMinor,
  xMajorLen:12,yMajorLen:28,border:3.5,
  tickSize:72,titleSize:72,xTickPad:32,yTickPad:27,
  xTitle:'Mass (M\u2299)',yTitle:'\u0394 (%)',
  xTitlePad:22,yTitlePad:38,xSpacing:3,ySpacing:0,yTitleDy:5,
  fmt:v=>v.toFixed(1),
  labels:[['d)',1549,139,72,2]],
  datasets:[scatter(dDwarf,classColors[0],legendLabels[0]),scatter([...dRGB,...dRGBBlob],classColors[1],legendLabels[1]),scatter([...dRC,...dRCBlob],classColors[2],legendLabels[2]),scatter([...dNoClass,...dNoClassBlob],classColors[3],legendLabels[3])]
});
</script>
</body>
</html>
